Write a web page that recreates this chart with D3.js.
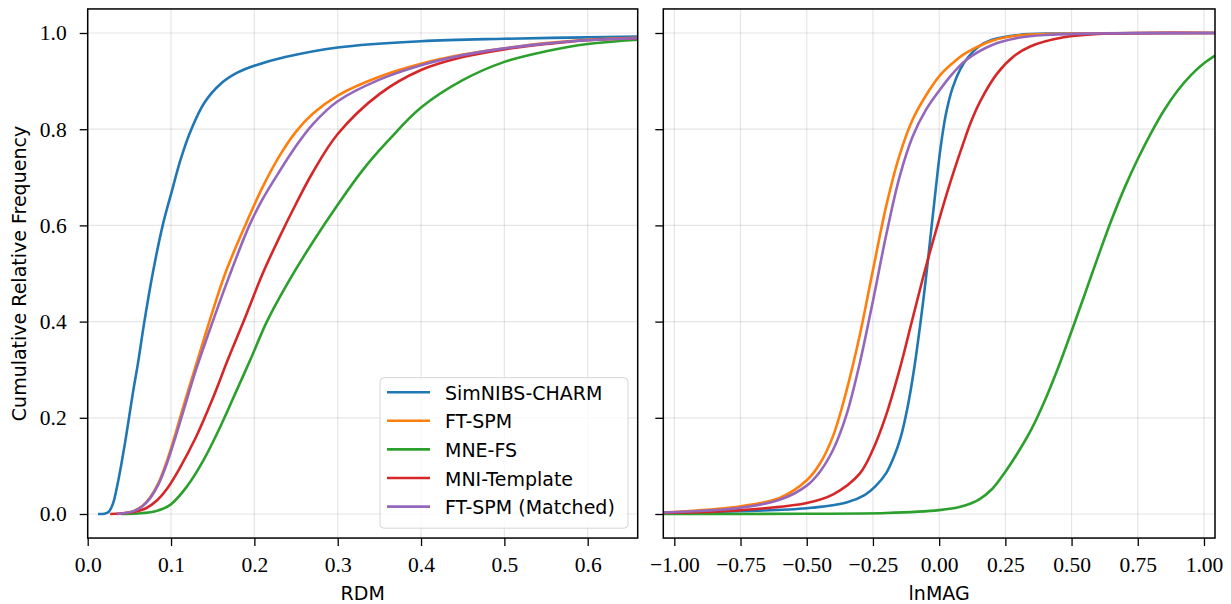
<!DOCTYPE html>
<html>
<head>
<meta charset="utf-8">
<script src="https://cdn.jsdelivr.net/npm/d3@7"></script>
<style>
  body { margin: 0; background: #fff; }
  .lab { font-family: "DejaVu Sans", sans-serif; font-size: 19px; fill: #000; }
</style>
</head>
<body>
<svg id="chart" width="1231" height="604"></svg>
<script>
// series names and tab10 colours
const seriesNames = ["SimNIBS-CHARM", "FT-SPM", "MNE-FS", "MNI-Template", "FT-SPM (Matched)"];
const seriesColors = ["#1f77b4", "#ff7f0e", "#2ca02c", "#d62728", "#9467bd"];

// left panel: cumulative frequency of RDM, [x, F]
const rdmCharm = [[0.0124,0],[0.02,0.0005],[0.025,0.004],[0.03,0.02],[0.035,0.055],[0.04,0.1],[0.045,0.15],[0.05,0.205],[0.055,0.26],[0.06,0.31],[0.068,0.4],[0.078,0.5],[0.09,0.6],[0.1,0.665],[0.112,0.74],[0.1244,0.8],[0.14,0.855],[0.16,0.895],[0.18,0.918],[0.2,0.932],[0.237,0.95],[0.3,0.97],[0.4,0.983],[0.5,0.988],[0.6,0.991],[0.7,0.994]];
const rdmFtspm = [[0.035,0],[0.045,0.002],[0.055,0.006],[0.065,0.016],[0.075,0.035],[0.085,0.065],[0.095,0.11],[0.105,0.165],[0.115,0.225],[0.13,0.31],[0.146,0.4],[0.165,0.5],[0.189,0.6],[0.21,0.68],[0.23,0.744],[0.25,0.795],[0.27,0.832],[0.3,0.87],[0.35,0.909],[0.4,0.936],[0.45,0.955],[0.5,0.968],[0.55,0.979],[0.6,0.986],[0.7,0.992]];
const rdmMnefs = [[0.04,0],[0.06,0.001],[0.08,0.005],[0.099,0.019],[0.119,0.057],[0.139,0.112],[0.159,0.181],[0.179,0.258],[0.195,0.32],[0.215,0.4],[0.24,0.48],[0.27,0.565],[0.3,0.643],[0.33,0.715],[0.36,0.775],[0.4,0.845],[0.45,0.902],[0.5,0.94],[0.55,0.962],[0.6,0.977],[0.7,0.99]];
const rdmMni = [[0.027,0],[0.04,0.001],[0.055,0.004],[0.07,0.012],[0.083,0.028],[0.095,0.052],[0.11,0.094],[0.13,0.16],[0.15,0.24],[0.168,0.32],[0.187,0.4],[0.21,0.5],[0.23,0.575],[0.25,0.645],[0.27,0.71],[0.3,0.79],[0.35,0.873],[0.4,0.923],[0.45,0.95],[0.5,0.966],[0.55,0.977],[0.6,0.985],[0.7,0.991]];
const rdmMatched = [[0.035,0],[0.045,0.002],[0.055,0.006],[0.065,0.015],[0.075,0.033],[0.085,0.062],[0.095,0.105],[0.105,0.158],[0.115,0.215],[0.13,0.3],[0.15,0.4],[0.17,0.495],[0.194,0.6],[0.21,0.655],[0.23,0.712],[0.25,0.765],[0.27,0.81],[0.3,0.858],[0.35,0.903],[0.4,0.933],[0.45,0.954],[0.5,0.968],[0.55,0.978],[0.6,0.985],[0.7,0.991]];

// right panel: cumulative frequency of lnMAG, [x, F]
const magCharm = [[-1.042,0.002],[-0.75,0.006],[-0.5,0.012],[-0.35,0.024],[-0.28,0.04],[-0.24,0.058],[-0.2,0.085],[-0.17,0.12],[-0.145,0.16],[-0.12,0.22],[-0.095,0.3],[-0.07,0.4],[-0.05,0.49],[-0.03,0.59],[-0.012,0.68],[0.005,0.76],[0.025,0.83],[0.05,0.885],[0.08,0.925],[0.11,0.95],[0.15,0.972],[0.2,0.986],[0.3,0.996],[0.45,0.999],[1.042,1]];
const magFtspm = [[-1.042,0.003],[-0.75,0.016],[-0.6,0.034],[-0.5,0.07],[-0.45,0.105],[-0.4,0.163],[-0.35,0.256],[-0.3,0.371],[-0.25,0.507],[-0.2,0.64],[-0.15,0.745],[-0.1,0.82],[-0.05,0.87],[0,0.91],[0.05,0.937],[0.1,0.958],[0.2,0.984],[0.3,0.995],[0.5,0.999],[1.042,1]];
const magMnefs = [[-1.042,0],[-0.5,0.0005],[-0.2,0.002],[0,0.008],[0.08,0.015],[0.15,0.03],[0.2,0.052],[0.25,0.088],[0.3,0.13],[0.35,0.178],[0.4,0.237],[0.45,0.305],[0.5,0.38],[0.55,0.457],[0.6,0.535],[0.65,0.61],[0.7,0.678],[0.75,0.738],[0.8,0.792],[0.85,0.84],[0.9,0.88],[0.95,0.912],[1,0.937],[1.042,0.953]];
const magMni = [[-1.042,0.002],[-0.75,0.008],[-0.5,0.023],[-0.4,0.041],[-0.3,0.084],[-0.25,0.134],[-0.2,0.206],[-0.15,0.299],[-0.1,0.407],[-0.05,0.514],[0,0.612],[0.03,0.668],[0.06,0.72],[0.092,0.772],[0.12,0.815],[0.155,0.858],[0.218,0.915],[0.281,0.951],[0.344,0.972],[0.47,0.991],[0.6,0.998],[1.042,1]];
const magMatched = [[-1.042,0.003],[-0.75,0.013],[-0.6,0.03],[-0.5,0.059],[-0.45,0.088],[-0.4,0.134],[-0.35,0.206],[-0.3,0.313],[-0.25,0.443],[-0.2,0.58],[-0.15,0.7],[-0.1,0.785],[-0.05,0.84],[0,0.88],[0.05,0.915],[0.1,0.943],[0.2,0.975],[0.3,0.99],[0.4,0.996],[0.6,0.999],[1.042,1]];

const rdmTicks = [0, 0.1, 0.2, 0.3, 0.4, 0.5, 0.6];
const magTicks = [-1, -0.75, -0.5, -0.25, 0, 0.25, 0.5, 0.75, 1];
const yTicks = [0, 0.2, 0.4, 0.6, 0.8, 1.0];

const svg = d3.select("#chart");

// shared y scale
const y = d3.scaleLinear().domain([-0.05, 1.05]).range([538.05, 8.95]);

const panels = [
  { left: 87.7, right: 637.7, domain: [0, 0.66], ticks: rdmTicks, fmt: d3.format(".1f"),
    label: "RDM", curves: [rdmCharm, rdmFtspm, rdmMnefs, rdmMni, rdmMatched], yLabels: true },
  { left: 663.3, right: 1215, domain: [-1.0416, 1.0416], ticks: magTicks, fmt: d3.format(".2f"),
    label: "lnMAG", curves: [magCharm, magFtspm, magMnefs, magMni, magMatched], yLabels: false }
];

// serif tick labels (computer modern look)
function styleTicks(a) {
  a.select(".domain").remove();
  a.selectAll(".tick line").attr("stroke-width", 1.3);
  a.selectAll(".tick text")
    .style("font-family", "'Liberation Serif', 'DejaVu Serif', serif")
    .style("font-size", "21.5px")
    .attr("fill", "#000");
}

panels.forEach(function (p, i) {
  const x = d3.scaleLinear().domain(p.domain).range([p.left, p.right]);
  const g = svg.append("g");

  // clip to axes box
  svg.append("clipPath").attr("id", "clip" + i)
    .append("rect")
    .attr("x", p.left).attr("y", y.range()[1])
    .attr("width", p.right - p.left).attr("height", y.range()[0] - y.range()[1]);

  // grid
  g.selectAll(".vg").data(p.ticks).join("line")
    .attr("x1", d => x(d)).attr("x2", d => x(d))
    .attr("y1", y.range()[1]).attr("y2", y.range()[0])
    .attr("stroke", "#000").attr("stroke-opacity", 0.1).attr("stroke-width", 1.2);
  g.selectAll(".hg").data(yTicks).join("line")
    .attr("x1", p.left).attr("x2", p.right)
    .attr("y1", d => y(d)).attr("y2", d => y(d))
    .attr("stroke", "#000").attr("stroke-opacity", 0.1).attr("stroke-width", 1.2);

  // curves
  const line = d3.line()
    .x(d => x(d[0]))
    .y(d => y(d[1]))
    .curve(d3.curveCatmullRom.alpha(0.5));
  g.append("g").attr("clip-path", `url(#clip${i})`)
    .selectAll("path").data(p.curves).join("path")
    .attr("d", line)
    .attr("fill", "none")
    .attr("stroke", (d, k) => seriesColors[k])
    .attr("stroke-width", 2.6)
    .attr("stroke-linejoin", "round");

  // axes
  const xAxis = d3.axisBottom(x).tickValues(p.ticks).tickFormat(p.fmt)
    .tickSizeInner(8).tickSizeOuter(0).tickPadding(11);
  g.append("g").attr("transform", `translate(0,${y.range()[0]})`).call(xAxis)
    .call(styleTicks);

  const yAxis = d3.axisLeft(y).tickValues(yTicks)
    .tickFormat(p.yLabels ? d3.format(".1f") : "")
    .tickSizeInner(8).tickSizeOuter(0).tickPadding(13);
  g.append("g").attr("transform", `translate(${p.left},0)`).call(yAxis)
    .call(styleTicks);

  // frame
  g.append("rect")
    .attr("x", p.left).attr("y", y.range()[1])
    .attr("width", p.right - p.left).attr("height", y.range()[0] - y.range()[1])
    .attr("fill", "none").attr("stroke", "#000").attr("stroke-width", 1.5);

  g.append("text").attr("class", "lab")
    .attr("x", (p.left + p.right) / 2).attr("y", 600)
    .attr("text-anchor", "middle")
    .text(p.label);
});

// y label
svg.append("text").attr("class", "lab")
  .attr("transform", `translate(26,${(y.range()[0] + y.range()[1]) / 2}) rotate(-90)`)
  .attr("text-anchor", "middle")
  .text("Cumulative Relative Frequency");

// legend in left panel
const leg = svg.append("g").attr("transform", "translate(380,377.7)");
leg.append("rect")
  .attr("width", 248).attr("height", 150.5).attr("rx", 4)
  .attr("fill", "#fff").attr("fill-opacity", 0.8)
  .attr("stroke", "#d6d6d6").attr("stroke-width", 1);
const items = leg.selectAll(".item").data(seriesNames).join("g")
  .attr("transform", (d, k) => `translate(0,${14.5 + k * 28.6})`);
items.append("line")
  .attr("x1", 7).attr("x2", 50)
  .attr("stroke", (d, k) => seriesColors[k]).attr("stroke-width", 2.6);
items.append("text").attr("class", "lab")
  .attr("x", 65).attr("y", 7.5)
  .text(d => d);
</script>
</body>
</html>
